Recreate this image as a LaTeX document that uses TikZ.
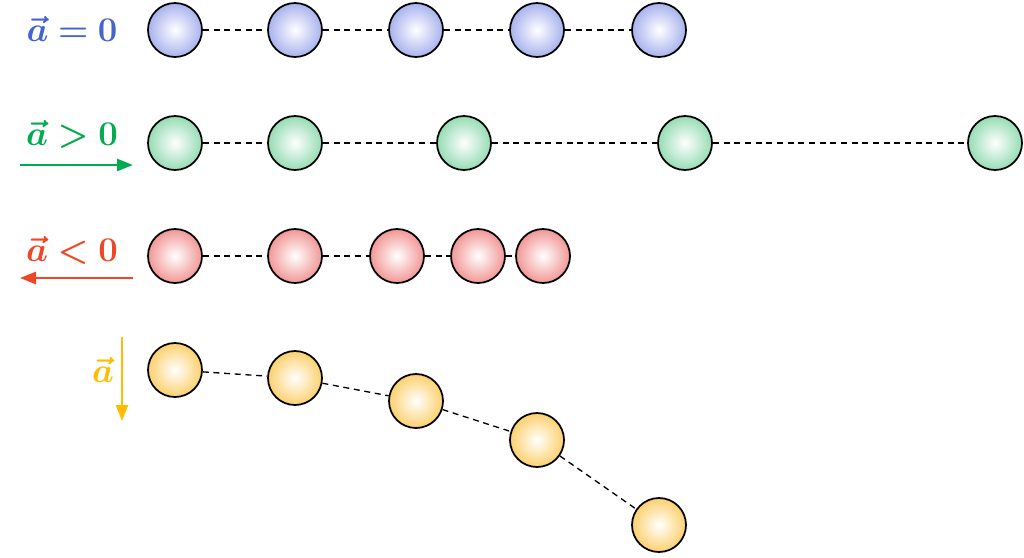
\documentclass[tikz,border=0pt]{standalone}
\usepackage{fix-cm}
\usepackage{bm}
\usetikzlibrary{arrows.meta}
\definecolor{ablue}{RGB}{70,100,205}
\definecolor{agreen}{RGB}{0,172,78}
\definecolor{ared}{RGB}{238,70,38}
\definecolor{ayellow}{RGB}{255,188,0}
\definecolor{fblue}{RGB}{168,178,238}
\definecolor{fgreen}{RGB}{150,220,180}
\definecolor{fred}{RGB}{242,150,150}
\definecolor{fyellow}{RGB}{252,208,110}
\tikzset{every picture/.style={line width=0.75pt}}
\tikzset{
  ball/.style={circle, draw=black, line width=1.3pt, minimum size=40.5pt, inner sep=0pt, shading=radial, inner color=white, outer color=#1},
  link/.style={line width=1pt, dash pattern={on 4.5pt off 3.5pt}},
  alabel/.style={inner sep=0.75pt, font=\fontsize{26}{30}\selectfont, text=#1},
  aarrow/.style={draw=#1, line width=2pt, -{Triangle[length=12pt,width=9pt]}}
}

\begin{document}
\begin{tikzpicture}[x=0.75pt,y=0.75pt,yscale=-1,xscale=1]
	\useasboundingbox (0,0) rectangle (1024,557);
	
	%Row: a = 0
	\node [ball=fblue] (b1) at (175,30) {};
	\node [ball=fblue] (b2) at (295,30) {};
	\node [ball=fblue] (b3) at (416,30) {};
	\node [ball=fblue] (b4) at (537,30) {};
	\node [ball=fblue] (b5) at (659,30) {};
	\draw [link] (b1) -- (b2) (b2) -- (b3) (b3) -- (b4) (b4) -- (b5);
	% Text Node
	\node [alabel=ablue] (lb) at (72,29) {$\bm{\vec{a}=0}$};
	
	%Row: a > 0
	\node [ball=fgreen] (g1) at (175,143) {};
	\node [ball=fgreen] (g2) at (295,143) {};
	\node [ball=fgreen] (g3) at (464,143) {};
	\node [ball=fgreen] (g4) at (685,143) {};
	\node [ball=fgreen] (g5) at (995,143) {};
	\draw [link] (g1) -- (g2) (g2) -- (g3) (g3) -- (g4) (g4) -- (g5);
	% Text Node
	\node [alabel=agreen] (lg) at (72,134) {$\bm{\vec{a}>0}$};
	\coordinate (gs) at (20,165);
	\coordinate (ge) at (133,165);
	\draw [aarrow=agreen] (gs) -- (ge);
	
	%Row: a < 0
	\node [ball=fred] (r1) at (175,256) {};
	\node [ball=fred] (r2) at (295,256) {};
	\node [ball=fred] (r3) at (397,256) {};
	\node [ball=fred] (r4) at (478,256) {};
	\node [ball=fred] (r5) at (543,256) {};
	\draw [link] (r1) -- (r2) (r2) -- (r3) (r3) -- (r4) (r4) -- (r5);
	% Text Node
	\node [alabel=ared] (lr) at (72,250) {$\bm{\vec{a}<0}$};
	\coordinate (rs) at (133,278);
	\coordinate (re) at (20,278);
	\draw [aarrow=ared] (rs) -- (re);
	
	%Row: a down
	\node [ball=fyellow] (y1) at (175,370) {};
	\node [ball=fyellow] (y2) at (295,378) {};
	\node [ball=fyellow] (y3) at (416,401) {};
	\node [ball=fyellow] (y4) at (537,440) {};
	\node [ball=fyellow] (y5) at (659,525) {};
	\draw [link] (y1) -- (y2) (y2) -- (y3) (y3) -- (y4) (y4) -- (y5);
	% Text Node
	\node [alabel=ayellow] (ly) at (103,370) {$\bm{\vec{a}}$};
	\coordinate (ys) at (122,337);
	\coordinate (ye) at (122,421);
	\draw [aarrow=ayellow] (ys) -- (ye);
	
\end{tikzpicture}
\end{document}
